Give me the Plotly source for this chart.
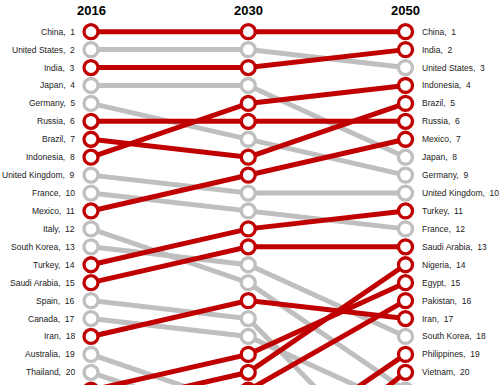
import plotly.graph_objects as go

years = ["2016", "2030", "2050"]
countries = ["China", "United States", "India", "Japan", "Germany", "Russia", "Brazil",
             "Indonesia", "United Kingdom", "France", "Mexico", "Italy", "South Korea",
             "Turkey", "Saudi Arabia", "Spain", "Canada", "Iran", "Australia", "Thailand",
             "Egypt", "Nigeria", "Pakistan", "Philippines", "Vietnam"]
rank_2016 = [1, 2, 3, 4, 5, 6, 7, 8, 9, 10, 11, 12, 13, 14, 15, 16, 17, 18, 19, 20, 21, 22, 24, 28, 32]
rank_2030 = [1, 2, 3, 4, 7, 6, 8, 5, 10, 11, 9, 15, 14, 12, 13, 17, 18, 16, 22, 23, 19, 20, 21, 25, 27]
rank_2050 = [1, 3, 2, 8, 9, 6, 5, 4, 10, 12, 7, 21, 18, 11, 13, 26, 22, 17, 28, 25, 15, 14, 16, 19, 20]
highlighted = ["China", "India", "Russia", "Brazil", "Indonesia", "Mexico", "Turkey",
               "Saudi Arabia", "Iran", "Nigeria", "Egypt", "Pakistan", "Philippines", "Vietnam"]

RED = "#C00000"
GRAY = "#BFBFBF"
FONT = "Arial, Liberation Sans, sans-serif"
xs = [0, 1, 2]

fig = go.Figure()

order = [i for i, c in enumerate(countries) if c not in highlighted] + \
        [i for i, c in enumerate(countries) if c in highlighted]

for i in order:
    col = RED if countries[i] in highlighted else GRAY
    fig.add_trace(go.Scatter(x=xs, y=[rank_2016[i], rank_2030[i], rank_2050[i]],
                             mode="lines", line=dict(color=col, width=5),
                             hoverinfo="skip", showlegend=False))
for i in order:
    col = RED if countries[i] in highlighted else GRAY
    fig.add_trace(go.Scatter(x=xs, y=[rank_2016[i], rank_2030[i], rank_2050[i]],
                             mode="markers",
                             marker=dict(symbol="circle", size=14, color="white",
                                         line=dict(color=col, width=3.3)),
                             hoverinfo="skip", showlegend=False))

YMAX = 20.708
annotations = []
for i, c in enumerate(countries):
    if rank_2016[i] <= 20:
        annotations.append(dict(x=0, y=rank_2016[i], xref="x", yref="y",
                                text=f"{c},\u00a0\u00a0{rank_2016[i]}", showarrow=False,
                                xanchor="right", yanchor="middle", xshift=-14,
                                font=dict(family=FONT, size=8.5, color="#1a1a1a")))
    if rank_2050[i] <= 20:
        annotations.append(dict(x=2, y=rank_2050[i], xref="x", yref="y",
                                text=f"{c},\u00a0\u00a0{rank_2050[i]}", showarrow=False,
                                xanchor="left", yanchor="middle", xshift=14,
                                font=dict(family=FONT, size=8.5, color="#1a1a1a")))
for k, yr in enumerate(years):
    annotations.append(dict(x=k, y=-0.21, xref="x", yref="y", text=f"<b>{yr}</b>",
                            showarrow=False, xanchor="center", yanchor="middle",
                            font=dict(family=FONT, size=13, color="black")))

fig.update_layout(
    width=500, height=385,
    margin=dict(l=0, r=0, t=0, b=0),
    paper_bgcolor="white", plot_bgcolor="white",
    xaxis=dict(range=[-91 / 157.25, (500 - 91) / 157.25], visible=False, fixedrange=True),
    yaxis=dict(range=[YMAX, 1 - 31.7 / 17.93], visible=False, fixedrange=True),
    annotations=annotations,
    showlegend=False,
)

fig.write_html("out.html", config={"displayModeBar": False},
               post_script="document.body.style.margin='0px';document.body.style.overflow='hidden';")
